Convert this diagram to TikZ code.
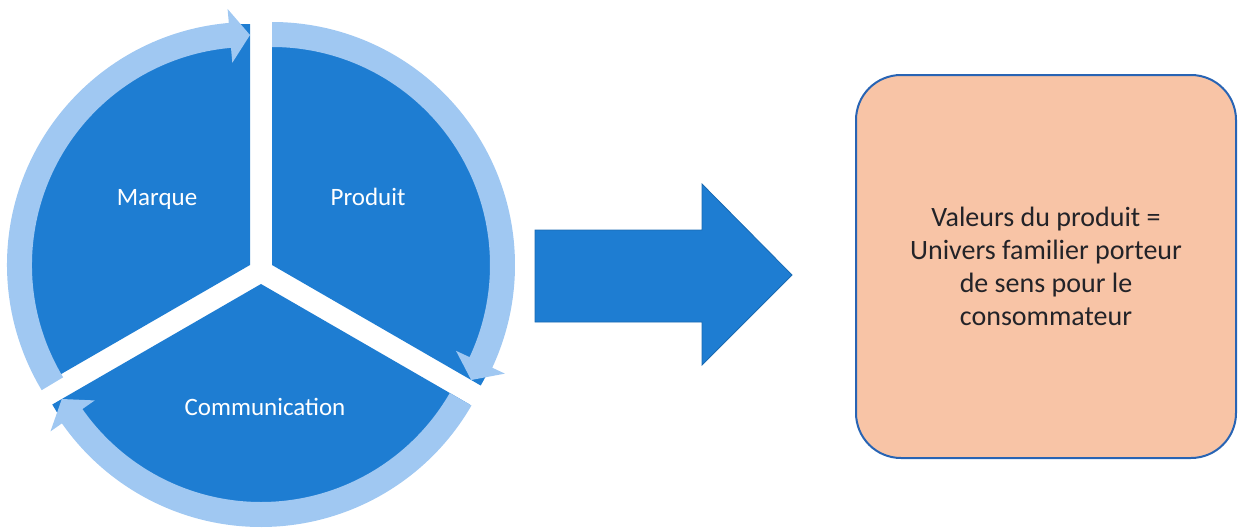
\documentclass[tikz,border=0pt]{standalone}
\usepackage{fontspec}
\setmainfont{Carlito}
\usetikzlibrary{calc}
\definecolor{segblue}{RGB}{30,125,210}
\definecolor{bandblue}{RGB}{160,200,242}
\definecolor{peach}{RGB}{248,196,166}
\definecolor{boxline}{RGB}{40,100,180}
\definecolor{txtdark}{RGB}{35,35,40}
\newcommand\cyclearrow[3]{%
  \pgfmathsetmacro\cyclebase{#3+5}%
  \fill[band] ($(#1)+(#2:218)$) arc[start angle=#2,end angle=\cyclebase,radius=218]
    -- ($(#1)+(\cyclebase:203)$) -- ($(#1)+(#3:230)$) -- ($(#1)+(\cyclebase:257)$)
    -- ($(#1)+(\cyclebase:243)$) arc[start angle=\cyclebase,end angle=#2,radius=243] -- cycle;}
\begin{document}
\begin{tikzpicture}[x=1pt,y=1pt,
  seg/.style={fill=segblue},
  band/.style={fill=bandblue},
  lbl/.style={text=white,font=\fontsize{25}{30}\selectfont,anchor=base,inner sep=0pt},
  valbox/.style={draw=boxline,line width=2pt,fill=peach,rounded corners=45pt,
    minimum width=380pt,minimum height=383pt,align=center,text=txtdark,
    font=\fontsize{28}{33}\selectfont},
  bigarrow/.style={fill=segblue,draw=segblue!85!black,line width=0.8pt}]
\useasboundingbox (0,0) rectangle (1243,-530);
\coordinate (M) at (250,-265);
\coordinate (P) at (272,-265);
\coordinate (C) at (261,-284);
% pie segments
\fill[seg] (M) -- ($(M)+(90:241)$) arc[start angle=90,end angle=210,radius=241] -- cycle;
\fill[seg] (P) -- ($(P)+(-30:241)$) arc[start angle=-30,end angle=90,radius=241] -- cycle;
\fill[seg] (C) -- ($(C)+(210:241)$) arc[start angle=210,end angle=330,radius=241] -- cycle;
% cycle arrows
\cyclearrow{M}{211}{90}
\cyclearrow{P}{90}{-30}
\cyclearrow{C}{330}{210}
% labels
\node[lbl] (marque) at (157,-205) {Marque};
\node[lbl] (produit) at (368,-205) {Produit};
\node[lbl] (comm) at (265,-415) {Communication};
% big arrow
\fill[bigarrow] (535,-230) -- (702,-230) -- (702,-184) -- (792,-275) -- (702,-365) -- (702,-322) -- (535,-322) -- cycle;
% value box
\node[valbox] (valeurs) at (1046,-266.5) {Valeurs du produit =\\Univers familier porteur\\de sens pour le\\consommateur};
\end{tikzpicture}
\end{document}
